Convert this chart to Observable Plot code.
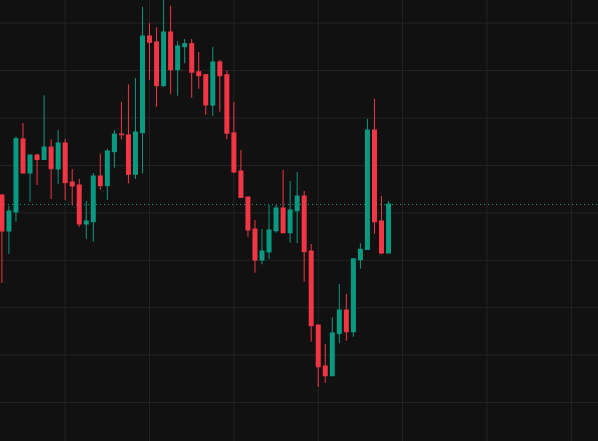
<!DOCTYPE html>
<html>
<head>
<meta charset="utf-8">
<script src="https://cdn.jsdelivr.net/npm/d3@7"></script>
<script src="https://cdn.jsdelivr.net/npm/@observablehq/plot@0.6"></script>
<style>
  html, body { margin: 0; padding: 0; background: #111111; overflow: hidden; }
  #chart svg { display: block; }
</style>
</head>
<body>
<div id="chart"></div>
<script>
// Hourly candles (start time of the first candle)
const startTime = "2024-03-11T03:00:00Z";
const open  = [62183,61803,62004,62774,62415,62605,62557,62689,62457,62731,62320,62288,61877,61901,62383,62281,62640,62826,62816,62401,62840,63860,63797,63336,63902,63504,63747,63779,63483,63452,63132,63586,63452,62837,62436,62162,61824,61497,61582,61806,62046,61785,62017,62172,61592,60812,60380,60277,60722,60970,60741,61500,61608,62868,61909,61571];
const high  = [62190,62067,62798,62942,62605,62615,63234,62770,62868,62774,62457,62352,62120,62415,62615,62668,62868,63164,63350,63417,64166,63994,63952,64261,64179,63804,63828,63828,63691,63452,63744,63607,63494,63164,62658,62162,61919,61824,62078,62078,62447,62331,62426,62225,61666,60812,60612,60893,61244,61139,61511,61674,62984,63198,62172,62120];
const low   = [61255,61561,61901,62415,62112,62288,62557,62141,62299,62130,62072,61846,61719,61690,62236,62130,62471,62770,62306,62352,62410,63396,63114,63322,63248,63230,63572,63209,63304,63027,63019,63061,62770,62412,62157,61743,61364,61452,61508,61785,61785,61680,61677,61269,60636,60161,60206,60277,60619,60646,60689,61406,61608,61775,61561,61571];
const close = [61803,62014,62777,62415,62605,62557,62689,62460,62731,62313,62278,61877,61909,62383,62281,62647,62826,62819,62401,62847,63860,63793,63336,63902,63504,63754,63779,63477,63441,63132,63586,63441,62834,62426,62157,61814,61497,61592,61814,62046,61785,62025,62172,61585,60805,60372,60277,60728,60970,60741,61511,61610,62868,61901,61571,62088];

const UP = "#089981", DOWN = "#f23645";
const t0 = new Date(startTime);
const hour = 3600 * 1000;
const data = open.map((o, i) => ({
  date: new Date(+t0 + i * hour),
  open: o, high: high[i], low: low[i], close: close[i]
}));
const last = data[data.length - 1];

const xDomain = [new Date(+t0 - 0.2 * hour), new Date(+t0 + 84.87 * hour)];
const yDomain = [59589, 64239];
const gridTimes = d3.utcHour.every(12).range(xDomain[0], xDomain[1]);
const gridPrices = d3.range(60000, 64001, 500);
const color = d => d.close >= d.open ? UP : DOWN;

const chart = Plot.plot({
  width: 598,
  height: 441,
  margin: 0,
  style: { background: "#111111" },
  x: { type: "utc", domain: xDomain, axis: null },
  y: { domain: yDomain, axis: null },
  marks: [
    Plot.ruleX(gridTimes, { stroke: "#242424", strokeWidth: 1 }),
    Plot.ruleY(gridPrices, { stroke: "#242424", strokeWidth: 1 }),
    Plot.ruleY([last.close], { stroke: UP, strokeDasharray: "1,3", strokeWidth: 1 }),
    Plot.ruleX(data, {
      x: "date", y1: "low", y2: "high",
      stroke: color, strokeWidth: 1
    }),
    Plot.ruleX(data, {
      x: "date",
      y1: d => Math.max(d.open, d.close),
      y2: d => Math.min(d.open, d.close),
      insetTop: -0.5, insetBottom: -0.5,
      stroke: color,
      strokeWidth: 5
    })
  ]
});
document.getElementById("chart").appendChild(chart);
</script>
</body>
</html>
